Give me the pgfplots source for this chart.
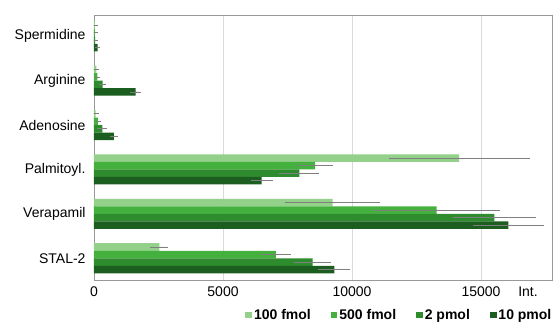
\documentclass[border=0pt]{standalone}
\usepackage{pgfplots}
\pgfplotsset{compat=1.18}
\usepackage{pgfplotstable}
\usepackage{fontspec}
\setmainfont{Liberation Sans}

\definecolor{cA}{HTML}{93D08A}
\definecolor{cB}{HTML}{44B03E}
\definecolor{cC}{HTML}{2E8B2E}
\definecolor{cD}{HTML}{1B5E1F}
\definecolor{errc}{HTML}{7F7F7F}

\pgfplotstableread{
y a ae b be c ce d de
0 30 5 30 5 45 5 140 10
1 90 10 130 20 330 30 1615 100
2 65 10 155 20 320 90 775 40
3 14150 2630 8565 580 7955 680 6500 320
4 9250 1730 13280 2370 15520 1500 16060 1280
5 2530 240 7050 470 8475 620 9315 520
}\data

\pgfplotsset{
  errstyle/.style={error bars/.cd, x dir=both, x explicit,
    error bar style={draw=errc, line width=0.8pt},
    error mark options={draw=errc, mark size=2.6bp, line width=0.8pt}},
}

\begin{document}
\begin{tikzpicture}
\begin{axis}[name=ax, scale only axis, width=458bp, height=265bp,
  xbar, bar width=0.169,
  y dir=reverse, ymin=-0.48, ymax=5.49,
  xmin=0, xmax=17750,
  ytick={0,...,5},
  yticklabels={Spermidine,Arginine,Adenosine,Palmitoyl.,Verapamil,STAL-2},
  xtick={0,5000,10000,15000},
  extra x ticks={16820}, extra x tick labels={Int.},
  extra x tick style={grid=none},
  xmajorgrids, grid style={draw=black!15, line width=0.7pt},
  axis line style={draw=black!40, line width=0.8pt},
  major tick length=0pt,
  tick label style={font=\fontsize{14bp}{16bp}\selectfont},
  yticklabel style={xshift=-5bp},
  xticklabel style={yshift=-3bp},
  /pgf/number format/assume math mode=true,
  /pgf/number format/1000 sep={},
  scaled x ticks=false,
  legend style={at={(1.01,-0.095)}, anchor=north east, draw=none, fill=none,
    legend columns=4,
    font=\bfseries\fontsize{14bp}{16bp}\selectfont,
    /tikz/every even column/.append style={column sep=18bp}},
  legend image code/.code={\fill[#1] (-2bp,-3.3bp) rectangle (4.6bp,3.3bp);},
]
\addplot[fill=cA, draw=none, bar shift=-0.2535, errstyle] table[x=a, y=y, x error=ae]{\data};
\addplot[fill=cB, draw=none, bar shift=-0.0845, errstyle] table[x=b, y=y, x error=be]{\data};
\addplot[fill=cC, draw=none, bar shift=0.0845, errstyle] table[x=c, y=y, x error=ce]{\data};
\addplot[fill=cD, draw=none, bar shift=0.2535, errstyle] table[x=d, y=y, x error=de]{\data};
\legend{100 fmol, 500 fmol, 2 pmol, 10 pmol}
\end{axis}
\pgfresetboundingbox
\useasboundingbox ([xshift=-94bp,yshift=-45bp]ax.south west) rectangle ([xshift=7bp,yshift=15bp]ax.north east);
\end{tikzpicture}
\end{document}
